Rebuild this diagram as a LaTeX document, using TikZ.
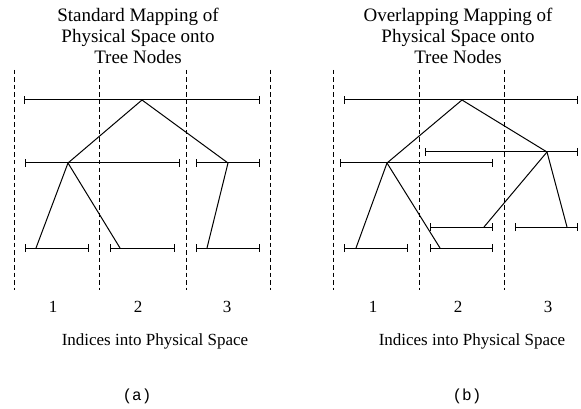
\documentclass[tikz,border=0pt]{standalone}
\usepackage{fontspec}
\setmainfont{Liberation Serif}
\setmonofont{Liberation Mono}
\usetikzlibrary{arrows.meta, positioning}

\begin{document}
\begin{tikzpicture}[x=1pt,y=-1pt,
  bar/.style={line width=1pt,{Bar[width=8pt]}-{Bar[width=8pt]}},
  sep/.style={dash pattern=on 4.5pt off 3pt,line width=1pt},
  edge/.style={line width=1pt},
  ttl/.style={align=center,inner sep=0pt,font=\fontsize{19}{21}\selectfont},
  idx/.style={inner sep=0pt,anchor=base,font=\fontsize{17}{20}\selectfont}]
\useasboundingbox (0,0) rectangle (581,409);
\node[ttl,anchor=north] (titleA) at (138,7.5) {Standard Mapping of\\Physical Space onto\\Tree Nodes};
\node[ttl,anchor=north] (titleB) at (458,7.5) {Overlapping Mapping of\\Physical Space onto\\Tree Nodes};
% space boundaries
\foreach \x in {14,99,186,270} \draw[sep] (\x,70) -- (\x,290);
\foreach \x in {333,419,504} \draw[sep] (\x,70) -- (\x,290);
% (a) standard mapping
\coordinate (a0) at (142,100);
\coordinate (a1) at (68,163);
\coordinate (a2) at (228,163);
\coordinate (a3) at (36,248);
\coordinate (a4) at (120,248);
\coordinate (a5) at (207,248);
\draw[bar] (24,100) -- (260,100);
\draw[bar] (25,163) -- (180,163);
\draw[bar] (196,163) -- (260,163);
\draw[bar] (25,248) -- (89,248);
\draw[bar] (110,248) -- (175,248);
\draw[bar] (196,248) -- (260,248);
\draw[edge] (a3) -- (a1) -- (a0) -- (a2) -- (a5);
\draw[edge] (a1) -- (a4);
% (b) overlapping mapping
\coordinate (b0) at (462,100);
\coordinate (b1) at (387,163);
\coordinate (b2) at (547,152);
\coordinate (b3) at (356,248);
\coordinate (b4) at (440,248);
\coordinate (b5) at (484,227);
\coordinate (b6) at (567,227);
\draw[bar] (344,100) -- (578,100);
\draw[bar] (340,163) -- (493,163);
\draw[bar] (425,152) -- (578,152);
\draw[bar] (430,227) -- (493,227);
\draw[bar] (515,227) -- (578,227);
\draw[bar] (344,248) -- (408,248);
\draw[bar] (430,248) -- (493,248);
\draw[edge] (b3) -- (b1) -- (b0) -- (b2) -- (b6);
\draw[edge] (b1) -- (b4);
\draw[edge] (b2) -- (b5);
% indices
\node[idx] (na1) at (53,312) {1};
\node[idx] (na2) at (138,312) {2};
\node[idx] (na3) at (227,312) {3};
\node[idx] (nb1) at (373,312) {1};
\node[idx] (nb2) at (458,312) {2};
\node[idx] (nb3) at (548,312) {3};
\node[idx] (indA) at (155,345) {Indices into Physical Space};
\node[idx] (indB) at (472,345) {Indices into Physical Space};
\node[idx,font=\fontsize{16}{18}\ttfamily] (capA) at (137,400) {(a)};
\node[idx,font=\fontsize{16}{18}\ttfamily] (capB) at (467,400) {(b)};
\end{tikzpicture}
\end{document}
